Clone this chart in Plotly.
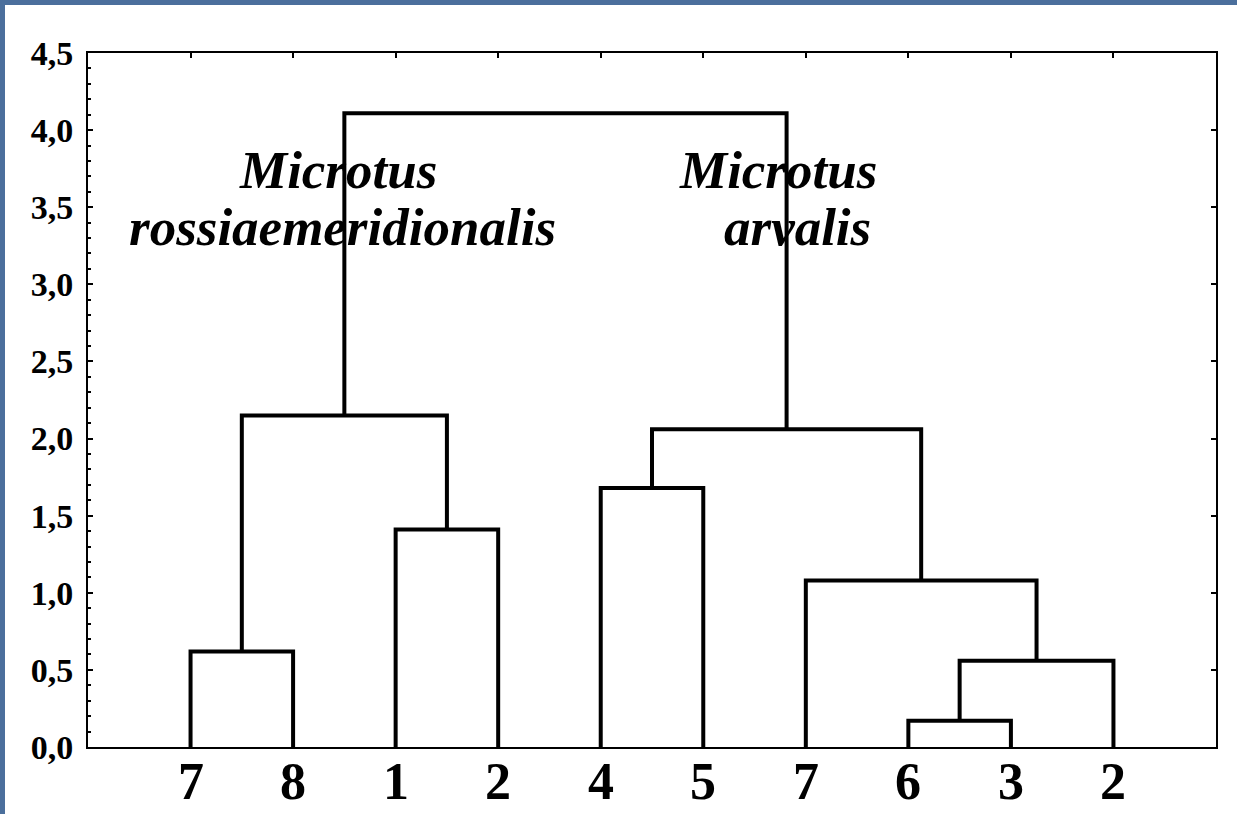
import plotly.graph_objects as go

# Leaf labels in dendrogram order (left to right)
leaf_labels = ["7", "8", "1", "2", "4", "5", "7", "6", "3", "2"]

# Agglomeration steps: (left node, right node, linkage distance).
# Nodes 0..9 are leaves; each step creates node 10, 11, ...
merge_left = [0, 2, 10, 4, 7, 14, 6, 13, 12]
merge_right = [1, 3, 11, 5, 8, 9, 15, 16, 17]
merge_height = [0.62, 1.41, 2.15, 1.68, 0.17, 0.56, 1.08, 2.06, 4.11]

y_ticks = [0.0, 0.5, 1.0, 1.5, 2.0, 2.5, 3.0, 3.5, 4.0, 4.5]

# Node positions: leaves sit at 1..n, internal nodes at the mean of children
leaf_x = list(range(1, len(leaf_labels) + 1))
pos_x = {i: leaf_x[i] for i in range(len(leaf_labels))}
pos_y = {i: 0.0 for i in range(len(leaf_labels))}
xs, ys = [], []
for k, (a, b, h) in enumerate(zip(merge_left, merge_right, merge_height)):
    node = len(leaf_labels) + k
    xs += [pos_x[a], pos_x[a], pos_x[b], pos_x[b], None]
    ys += [pos_y[a], h, h, pos_y[b], None]
    pos_x[node] = (pos_x[a] + pos_x[b]) / 2
    pos_y[node] = h

fig = go.Figure()
fig.add_trace(go.Scatter(
    x=xs, y=ys, mode="lines",
    line=dict(color="black", width=4),
    hoverinfo="skip", showlegend=False,
))
# carrier trace for the right-hand tick axis
fig.add_trace(go.Scatter(
    x=[1], y=[0], yaxis="y2", mode="markers",
    marker=dict(opacity=0), hoverinfo="skip", showlegend=False,
))

serif = "Liberation Serif, Times New Roman, serif"
species_font = dict(family=serif, size=53, color="black")

# leaf labels under the axis, set close to the baseline
leaf_annotations = [
    dict(x=x, y=0, xref="x", yref="paper", text=f"<b>{lab}</b>",
         showarrow=False, yanchor="middle", yshift=-34,
         font=dict(family=serif, size=52, color="black"))
    for x, lab in zip(leaf_x, leaf_labels)
]

species_annotations = [
    dict(x=2.44, y=3.74, xref="x", yref="y", text="<b><i>Microtus</i></b>",
         showarrow=False, font=species_font),
    dict(x=2.48, y=3.37, xref="x", yref="y",
         text="<b><i>rossiaemeridionalis</i></b>",
         showarrow=False, font=species_font),
    dict(x=6.73, y=3.74, xref="x", yref="y", text="<b><i>Microtus</i></b>",
         showarrow=False, font=species_font),
    dict(x=6.92, y=3.37, xref="x", yref="y", text="<b><i>arvalis</i></b>",
         showarrow=False, font=species_font),
]

fig.update_layout(
    width=1237, height=814,
    margin=dict(l=88, r=21, t=53, b=67, autoexpand=False),
    paper_bgcolor="white",
    plot_bgcolor="white",
    separators=", ",
    xaxis=dict(
        range=[0, 11],
        tickmode="array",
        tickvals=leaf_x,
        showticklabels=False,
        ticks="inside", ticklen=5, tickwidth=2, tickcolor="black",
        showline=True, linecolor="black", linewidth=2, mirror="ticks",
        showgrid=False, zeroline=False, automargin=False,
    ),
    yaxis=dict(
        range=[0, 4.5],
        tickmode="array",
        tickvals=y_ticks,
        tickformat=".1f",
        ticks="inside", ticklen=5, tickwidth=2, tickcolor="black",
        minor=dict(dtick=0.1, ticks="inside", ticklen=3, tickwidth=1.5,
                   tickcolor="black", showgrid=False),
        showline=True, linecolor="black", linewidth=2, mirror=True,
        showgrid=False, zeroline=False, automargin=False,
        tickfont=dict(family=serif, size=34, color="black", weight="bold"),
        ticklabelstandoff=6,
    ),
    yaxis2=dict(
        range=[0, 4.5], overlaying="y", side="right",
        tickmode="array", tickvals=y_ticks,
        ticks="inside", ticklen=5, tickwidth=2, tickcolor="black",
        showticklabels=False, showgrid=False, zeroline=False, showline=False,
        automargin=False,
    ),
    annotations=leaf_annotations + species_annotations,
    shapes=[
        # blue frame strips along the top and left edges of the page
        dict(type="rect", xref="paper", yref="paper",
             x0=-88 / 1128, x1=1149 / 1128, y0=742 / 694, y1=747 / 694,
             fillcolor="#4b6f9c", line=dict(width=0), layer="below"),
        dict(type="rect", xref="paper", yref="paper",
             x0=-88 / 1128, x1=-83 / 1128, y0=-67 / 694, y1=747 / 694,
             fillcolor="#4b6f9c", line=dict(width=0), layer="below"),
    ],
)

fig.write_html("out.html")
